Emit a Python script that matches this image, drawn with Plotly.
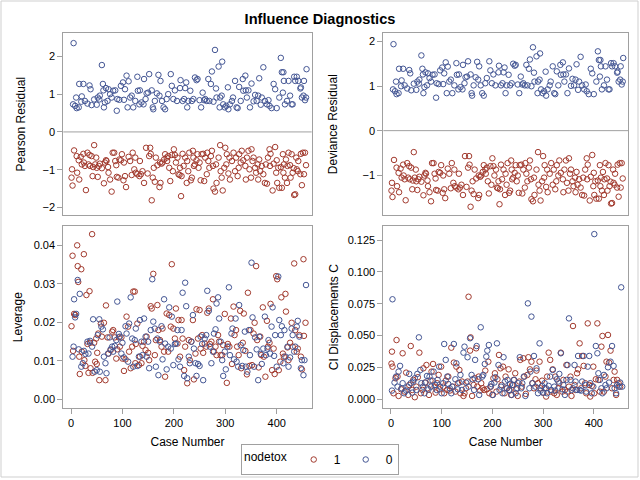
import numpy as np
import plotly.graph_objects as go

# ---- values (case number, statistic) ----
# Pearson residuals, nodetox = 0 (blue)
pear_case_0 = [4,5,8,10,11,15,16,20,21,24,
    27,32,36,38,40,45,50,52,55,56,
    60,62,63,64,66,68,71,73,76,79,
    82,86,89,90,94,97,101,103,105,108,
    110,112,115,118,121,125,129,130,133,134,
    137,141,142,145,147,150,152,157,159,160,
    163,167,170,172,174,177,180,183,186,189,
    194,196,199,202,206,212,213,217,220,222,
    224,226,228,232,235,238,241,244,246,250,
    253,256,259,261,264,267,269,272,274,277,
    280,282,283,287,289,290,293,294,296,299,
    302,305,306,309,313,315,319,322,324,327,
    330,334,335,339,340,342,345,348,351,355,
    358,361,364,366,369,371,374,377,381,384,
    386,390,394,397,400,405,408,410,412,413,
    414,416,420,423,426,429,431,434,436,439,
    442,446,447,449,452,453,455,457,458]
pear_0 = [0.73,2.35,0.69,0.91,0.63,0.65,1.27,0.80,0.94,1.27,
    0.82,0.75,1.23,1.13,0.71,0.86,0.72,0.91,0.86,0.96,
    1.77,1.27,1.10,0.65,0.78,1.16,0.82,1.13,1.00,0.91,
    1.09,1.10,0.56,0.87,0.85,1.22,1.31,0.85,1.13,1.49,
    0.65,1.34,0.91,0.96,0.65,0.82,1.46,1.09,0.73,1.10,
    0.78,0.73,1.40,0.87,1.02,1.04,1.53,1.10,0.65,0.60,
    0.82,1.02,1.51,0.96,1.35,0.82,0.65,0.60,0.87,1.00,
    1.53,1.22,0.87,1.10,0.82,1.16,1.37,0.82,0.87,1.16,
    1.31,0.65,0.82,1.09,0.82,0.87,1.44,1.37,1.40,0.84,
    0.65,1.04,0.84,0.87,0.82,1.40,0.82,1.27,1.60,0.80,
    2.17,1.15,0.91,1.73,0.65,0.91,0.96,1.86,0.73,0.65,
    0.69,1.18,0.60,0.73,0.82,0.91,1.35,0.65,0.63,1.19,
    0.82,1.40,1.09,1.49,1.10,0.91,1.10,0.65,1.28,0.81,
    0.98,0.82,0.96,1.42,0.72,0.91,1.71,0.82,0.73,0.84,
    0.69,0.63,1.27,1.13,0.63,0.91,1.96,1.58,1.04,1.58,
    1.35,0.73,0.82,1.35,0.96,0.73,0.73,1.46,1.35,1.46,
    1.35,1.15,1.18,0.91,0.96,1.35,0.84,0.91,1.66]

# Pearson residuals, nodetox = 1 (red)
pear_case_1 = [1,2,3,6,11,12,15,16,19,21,
    24,25,27,29,32,34,36,37,40,42,
    43,45,47,49,50,52,54,56,60,64,
    66,68,69,72,73,76,79,81,84,86,
    88,89,92,94,97,99,102,103,105,107,
    112,115,118,120,123,125,126,129,133,134,
    136,139,142,146,149,152,154,155,157,159,
    161,163,165,168,172,173,174,176,178,181,
    183,186,187,189,191,193,196,198,200,202,
    204,207,209,211,212,214,215,217,219,222,
    225,226,228,230,233,235,237,238,239,241,
    244,246,248,250,252,254,257,259,261,264,
    265,267,269,272,274,276,277,280,282,283,
    287,290,291,293,295,298,300,302,303,306,
    308,309,313,316,319,321,324,326,327,330,
    332,335,339,340,342,345,347,350,351,353,
    355,358,360,363,364,366,368,371,374,377,
    379,381,383,386,387,388,392,394,397,399,
    400,401,403,405,408,410,412,413,414,416,
    418,420,421,423,426,427,429,431,433,434,
    436,438,439,441,442,446,447,449,451,453,
    455,457]
pear_1 = [-1.21,-0.99,-1.42,-0.49,-0.64,-1.08,-0.75,-1.26,-0.66,-0.86,
    -0.58,-0.81,-0.90,-1.54,-0.55,-0.86,-0.61,-0.90,-0.64,-1.17,
    -0.93,-0.35,-0.86,-0.68,-0.95,-1.19,-0.90,-0.84,-0.96,-1.36,
    -0.81,-0.75,-0.77,-0.93,-1.08,-1.26,-1.58,-0.55,-0.55,-0.77,
    -0.88,-1.19,-1.21,-0.73,-0.75,-0.59,-1.28,-0.81,-1.17,-1.46,
    -0.66,-0.77,-1.14,-0.55,-0.99,-0.68,-1.08,-1.12,-1.17,-0.77,
    -1.12,-1.04,-1.35,-0.42,-1.10,-0.64,-0.42,-0.58,-1.81,-1.21,
    -0.95,-1.32,-0.68,-0.88,-1.46,-0.81,-1.35,-0.84,-0.81,-0.73,
    -0.59,-0.68,-0.77,-0.64,-0.95,-1.30,-0.61,-1.04,-0.46,-0.61,
    -0.81,-0.68,-1.12,-1.14,-0.95,-1.70,-1.17,-0.58,-0.90,-0.68,
    -1.35,-0.77,-1.04,-0.55,-1.28,-1.21,-0.50,-0.68,-0.90,-0.86,
    -0.75,-0.59,-0.95,-0.81,-1.28,-0.59,-0.58,-1.30,-0.68,-1.12,
    -0.55,-0.77,-0.95,-0.64,-0.50,-0.90,-1.50,-1.58,-0.86,-1.35,
    -0.68,-0.35,-1.04,-1.21,-1.55,-0.95,-0.42,-0.86,-0.59,-1.10,
    -0.68,-1.26,-0.77,-0.55,-1.04,-0.68,-1.17,-0.95,-0.59,-0.81,
    -0.50,-0.75,-0.90,-1.26,-0.68,-0.50,-0.99,-1.21,-0.46,-0.77,
    -0.68,-0.95,-1.08,-0.86,-1.26,-0.73,-1.04,-0.90,-1.12,-1.35,
    -0.86,-1.37,-0.68,-0.46,-0.90,-0.58,-1.55,-0.84,-0.40,-1.08,
    -0.75,-1.35,-0.95,-1.48,-0.93,-1.48,-0.59,-1.08,-0.86,-1.21,
    -0.73,-1.35,-0.90,-0.55,-0.88,-1.21,-0.59,-1.08,-0.96,-1.67,
    -1.65,-0.68,-0.99,-1.04,-0.77,-1.12,-0.58,-1.41,-0.55,-1.12,
    -0.55,-0.88]

# Leverage, nodetox = 1
lev_case_1 = [1,3,4,6,8,12,13,14,16,17,
    20,21,25,26,28,30,32,34,36,37,
    38,41,42,45,47,49,50,51,53,55,
    58,60,64,67,68,71,73,77,80,82,
    85,88,90,93,95,98,100,103,106,108,
    111,113,116,119,121,124,125,126,129,132,
    134,137,139,142,145,147,150,152,155,157,
    160,163,165,168,170,173,176,178,181,183,
    186,189,191,194,196,199,202,204,207,209,
    212,215,217,220,222,226,229,231,234,237,
    239,242,244,247,250,252,255,257,260,263,
    265,268,270,273,276,278,281,283,286,288,
    291,294,296,299,303,305,308,311,313,316,
    318,321,323,326,329,331,334,336,339,342,
    344,347,349,352,355,357,360,362,365,368,
    370,373,375,378,381,383,386,388,391,394,
    396,399,401,404,407,409,412,414,417,418,
    421,423,426,429,431,434,436,439,441,444,
    447,449,452,453,456]
lev_1 = [.0190,.0373,.0126,.0222,.0219,.0400,.0346,.0305,.0111,.0066,
    .0338,.0124,.0377,.0102,.0087,.0271,.0144,.0069,.0281,.0147,
    .0081,.0429,.0069,.0147,.0098,.0158,.0092,.0121,.0171,.0050,
    .0197,.0163,.0199,.0050,.0244,.0161,.0119,.0128,.0176,.0180,
    .0161,.0106,.0130,.0161,.0137,.0161,.0106,.0074,.0104,.0215,
    .0189,.0124,.0081,.0137,.0280,.0280,.0094,.0144,.0197,.0089,
    .0111,.0094,.0139,.0150,.0128,.0163,.0121,.0102,.0242,.0236,
    .0326,.0115,.0154,.0245,.0180,.0154,.0137,.0184,.0124,.0059,
    .0223,.0124,.0219,.0189,.0351,.0184,.0158,.0236,.0145,.0206,
    .0111,.0206,.0158,.0076,.0137,.0042,.0154,.0102,.0150,.0206,
    .0052,.0119,.0234,.0158,.0232,.0132,.0167,.0121,.0145,.0137,
    .0225,.0236,.0144,.0150,.0260,.0124,.0137,.0115,.0167,.0150,
    .0115,.0115,.0141,.0222,.0043,.0144,.0137,.0210,.0092,.0241,
    .0167,.0180,.0137,.0115,.0230,.0081,.0147,.0223,.0126,.0065,
    .0277,.0087,.0180,.0089,.0171,.0199,.0346,.0154,.0083,.0163,
    .0115,.0239,.0111,.0059,.0204,.0137,.0147,.0248,.0076,.0132,
    .0066,.0320,.0312,.0076,.0098,.0265,.0119,.0111,.0274,.0228,
    .0135,.0102,.0147,.0199,.0137,.0353,.0180,.0124,.0132,.0167,
    .0111,.0078,.0364,.0165,.0199]

# Leverage, nodetox = 0
lev_case_0 = [3,5,6,8,10,13,15,17,20,23,
    25,28,32,34,37,41,43,46,50,52,
    55,56,59,62,64,67,69,72,75,77,
    80,82,85,88,90,93,95,98,100,103,
    106,108,111,113,116,119,121,124,126,129,
    132,134,137,139,142,145,147,150,152,155,
    158,160,163,165,168,170,173,176,178,181,
    183,186,189,191,194,196,199,202,204,207,
    209,212,215,217,220,222,224,226,229,231,
    234,237,239,242,244,247,250,252,255,257,
    260,263,265,268,270,273,276,278,281,283,
    286,288,291,294,296,299,301,304,307,309,
    312,314,317,320,322,325,327,330,333,335,
    338,340,343,346,348,351,353,356,358,361,
    364,366,369,371,374,377,379,382,384,387,
    390,392,395,397,400,403,405,408,410,413,
    415,417,421,423,426,429,431,434,436,439,
    441,444,447,449,452,454,457]
lev_0 = [.0111,.0137,.0260,.0213,.0222,.0310,.0130,.0274,.0085,.0094,
    .0126,.0118,.0150,.0119,.0152,.0137,.0208,.0072,.0076,.0167,
    .0208,.0072,.0189,.0182,.0111,.0094,.0068,.0119,.0161,.0130,
    .0137,.0124,.0139,.0154,.0254,.0170,.0163,.0119,.0147,.0109,
    .0190,.0171,.0098,.0197,.0265,.0158,.0085,.0154,.0184,.0087,
    .0111,.0206,.0150,.0115,.0210,.0163,.0111,.0150,.0081,.0180,
    .0312,.0202,.0184,.0085,.0158,.0063,.0150,.0190,.0104,.0260,
    .0145,.0078,.0137,.0239,.0132,.0215,.0089,.0144,.0145,.0180,
    .0104,.0085,.0180,.0277,.0061,.0303,.0242,.0055,.0111,.0094,
    .0150,.0219,.0132,.0094,.0061,.0092,.0087,.0163,.0144,.0050,
    .0158,.0167,.0282,.0230,.0137,.0094,.0124,.0171,.0182,.0249,
    .0265,.0210,.0150,.0102,.0061,.0124,.0078,.0137,.0291,.0115,
    .0171,.0184,.0104,.0210,.0098,.0085,.0245,.0141,.0087,.0128,
    .0176,.0085,.0072,.0180,.0115,.0355,.0213,.0085,.0161,.0130,
    .0050,.0163,.0118,.0092,.0132,.0215,.0115,.0132,.0154,.0119,
    .0189,.0239,.0113,.0167,.0085,.0319,.0206,.0167,.0190,.0094,
    .0180,.0111,.0137,.0085,.0109,.0184,.0167,.0124,.0137,.0189,
    .0204,.0163,.0081,.0102,.0063,.0102,.0297]

# CI displacement C, nodetox = 1
ci_case_1 = [1,2,3,5,9,11,13,15,20,23,
    27,30,34,36,39,42,44,47,50,53,
    56,59,62,64,67,70,72,75,78,80,
    83,86,88,91,94,96,99,103,105,108,
    111,113,116,119,121,124,127,129,132,135,
    137,140,143,145,148,151,153,156,157,160,
    163,165,168,170,173,176,178,181,184,186,
    189,192,194,197,200,202,205,208,210,213,
    216,218,221,224,226,229,232,234,237,239,
    242,245,247,250,253,255,258,261,263,266,
    269,271,274,277,279,282,285,287,290,293,
    295,298,300,303,306,308,311,314,316,319,
    322,324,327,330,332,335,338,340,343,346,
    348,351,354,356,359,362,364,367,369,372,
    375,377,380,383,385,388,391,393,396,399,
    401,404,407,409,412,415,417,420,423,425,
    428,430,433,436,439,441,444,446,449,452]
ci_1 = [.0280,.0374,.0256,.0047,.0165,.0465,.0178,.0026,.0078,.0361,
    .0060,.0209,.0034,.0112,.0418,.0073,.0152,.0016,.0099,.0173,
    .0366,.0047,.0073,.0243,.0131,.0269,.0086,.0034,.0146,.0217,
    .0277,.0099,.0052,.0126,.0191,.0078,.0256,.0099,.0047,.0146,
    .0073,.0178,.0068,.0405,.0099,.0288,.0060,.0256,.0126,.0230,
    .0047,.0139,.0026,.0047,.0086,.0139,.0805,.0382,.0486,.0026,
    .0112,.0165,.0400,.0099,.0178,.0068,.0126,.0086,.0073,.0225,
    .0078,.0295,.0047,.0099,.0034,.0165,.0204,.0060,.0157,.0348,
    .0243,.0112,.0256,.0047,.0178,.0086,.0235,.0068,.0034,.0112,
    .0152,.0204,.0078,.0026,.0139,.0309,.0099,.0322,.0178,.0042,
    .0191,.0330,.0235,.0295,.0126,.0086,.0157,.0225,.0126,.0295,
    .0086,.0146,.0052,.0086,.0021,.0178,.0366,.0309,.0060,.0235,
    .0047,.0178,.0034,.0086,.0126,.0366,.0060,.0152,.0073,.0269,
    .0060,.0099,.0178,.0026,.0575,.0112,.0073,.0204,.0235,.0439,
    .0086,.0340,.0262,.0126,.0047,.0596,.0112,.0021,.0105,.0256,
    .0047,.0157,.0596,.0152,.0060,.0413,.0497,.0060,.0178,.0295,
    .0505,.0288,.0382,.0086,.0152,.0217,.0034,.0152,.0126,.0099]

# CI displacement C, nodetox = 0
ci_case_0 = [2,3,7,10,13,15,18,21,23,26,
    30,33,36,39,42,44,47,50,52,55,
    58,60,63,66,68,71,74,76,79,82,
    84,87,90,92,95,97,100,103,105,108,
    111,113,116,119,121,124,127,129,132,135,
    137,140,143,145,148,151,153,156,159,161,
    164,166,169,172,174,177,180,182,185,188,
    190,193,196,198,201,204,206,209,212,214,
    217,220,222,225,228,230,233,235,238,241,
    243,246,249,251,254,257,259,262,265,270,
    277,273,275,279,282,285,287,290,293,295,
    298,300,303,306,308,311,314,316,319,322,
    324,327,330,332,335,338,340,343,346,348,
    351,354,356,359,362,364,367,369,372,375,
    377,380,383,385,388,391,393,396,399,401,
    404,407,409,412,415,417,420,423,425,428,
    430,433,436,439,441,444,446,449,452,454,
    456]
ci_0 = [.0068,.0785,.0131,.0178,.0099,.0217,.0262,.0086,.0126,.0047,
    .0068,.0099,.0199,.0126,.0052,.0139,.0165,.0073,.0199,.0486,
    .0230,.0126,.0099,.0047,.0131,.0183,.0078,.0178,.0099,.0146,
    .0217,.0112,.0073,.0152,.0256,.0099,.0047,.0126,.0434,.0309,
    .0178,.0120,.0086,.0047,.0099,.0434,.0157,.0282,.0078,.0131,
    .0191,.0073,.0366,.0413,.0131,.0330,.0099,.0479,.0191,.0157,
    .0073,.0309,.0418,.0157,.0034,.0565,.0178,.0191,.0277,.0335,
    .0382,.0426,.0099,.0120,.0034,.0131,.0173,.0439,.0269,.0073,
    .0099,.0047,.0330,.0139,.0086,.0152,.0073,.0120,.0034,.0112,
    .0152,.0047,.0086,.0126,.0330,.0086,.0126,.0178,.0026,.0753,
    .0649,.0086,.0217,.0126,.0340,.0099,.0243,.0047,.0439,.0068,
    .0105,.0052,.0126,.0086,.0047,.0105,.0178,.0073,.0230,.0099,
    .0068,.0157,.0139,.0199,.0361,.0078,.0112,.0034,.0152,.0269,
    .0635,.0152,.0073,.0086,.0269,.0139,.0073,.0340,.0073,.0068,
    .0139,.0340,.0112,.0060,.0256,.0340,.0126,.0047,.0099,.1297,
    .0418,.0361,.0204,.0152,.0086,.0047,.0191,.0112,.0086,.0251,
    .0131,.0295,.0418,.0262,.0086,.0047,.0112,.0099,.0131,.0879,
    .0099]

# deviance residual of a binary-response fit follows from its Pearson residual
def deviance_from_pearson(r):
    r = np.asarray(r)
    return np.sign(r) * np.sqrt(2 * np.log1p(r ** 2))

RED = "#A23A2E"
BLUE = "#445694"
FRAME = "#A0A0A0"
FONT = "Liberation Sans, Arial, sans-serif"

fig = go.Figure()

def add_pts(xs, ys, color, name, xa, ya, show):
    fig.add_trace(go.Scatter(x=xs, y=ys, mode="markers", name=name, legendgroup=name,
                             showlegend=show, xaxis=xa, yaxis=ya,
                             marker=dict(symbol="circle-open", size=5.5, color=color,
                                         line=dict(width=1, color=color))))

add_pts(pear_case_1, pear_1, RED, "1", "x", "y", True)
add_pts(pear_case_0, pear_0, BLUE, "0", "x", "y", True)
add_pts(pear_case_1, deviance_from_pearson(pear_1), RED, "1", "x2", "y2", False)
add_pts(pear_case_0, deviance_from_pearson(pear_0), BLUE, "0", "x2", "y2", False)
add_pts(lev_case_1, lev_1, RED, "1", "x3", "y3", False)
add_pts(lev_case_0, lev_0, BLUE, "0", "x3", "y3", False)
add_pts(ci_case_1, ci_1, RED, "1", "x4", "y4", False)
add_pts(ci_case_0, ci_0, BLUE, "0", "x4", "y4", False)

ax = dict(showline=True, mirror=True, linecolor=FRAME, linewidth=1, showgrid=False,
          zeroline=False, ticks="outside", ticklen=5, tickcolor=FRAME,
          tickfont=dict(size=11, color="#000000"))
left_dom = [0.0989, 0.487]
right_dom = [0.599, 0.9817]
top_dom = [0.552, 0.9306]
bot_dom = [0.1494, 0.529]
xrng = [-15, 468]
xticks = [0, 100, 200, 300, 400]
ttl = dict(size=12, color="#000000")

fig.update_layout(
    width=640, height=480, margin=dict(l=0, r=0, t=0, b=0),
    paper_bgcolor="white", plot_bgcolor="white",
    font=dict(family=FONT, color="#000000"),
    title=dict(text="<b>Influence Diagnostics</b>", x=0.5, xanchor="center",
               y=1 - 19 / 480, yanchor="middle", font=dict(size=14.6)),
    xaxis=dict(ax, domain=left_dom, anchor="y", range=xrng, ticks="", showticklabels=False),
    xaxis2=dict(ax, domain=right_dom, anchor="y2", range=xrng, ticks="", showticklabels=False),
    xaxis3=dict(ax, domain=left_dom, anchor="y3", range=xrng, tickvals=xticks,
                title=dict(text="Case Number", font=ttl, standoff=9)),
    xaxis4=dict(ax, domain=right_dom, anchor="y4", range=xrng, tickvals=xticks,
                title=dict(text="Case Number", font=ttl, standoff=9)),
    yaxis=dict(ax, domain=top_dom, anchor="x", range=[-2.2, 2.61], tickvals=[-2, -1, 0, 1, 2],
               title=dict(text="Pearson Residual", font=ttl, standoff=14)),
    yaxis2=dict(ax, domain=top_dom, anchor="x2", range=[-1.89, 2.18], tickvals=[-1, 0, 1, 2],
                title=dict(text="Deviance Residual", font=ttl, standoff=22)),
    yaxis3=dict(ax, domain=bot_dom, anchor="x3", range=[-0.0023, 0.045],
                tickvals=[0, 0.01, 0.02, 0.03, 0.04], tickformat=".2f",
                title=dict(text="Leverage", font=ttl, standoff=8)),
    yaxis4=dict(ax, domain=bot_dom, anchor="x4", range=[-0.0071, 0.136],
                tickvals=[0, 0.025, 0.05, 0.075, 0.1, 0.125], tickformat=".3f",
                title=dict(text="CI Displacements C", font=ttl, standoff=6)),
    legend=dict(orientation="h", x=0.5, xanchor="center", y=1 - 459.5 / 480, yanchor="middle",
                title=dict(text="nodetox", font=dict(size=12), side="left"),
                font=dict(size=12), bordercolor=FRAME, borderwidth=1, itemwidth=30,
                bgcolor="white", tracegroupgap=0),
)

# reference lines at zero on the residual panels
for xa, ya in [("x", "y"), ("x2", "y2")]:
    fig.add_shape(type="line", xref=xa + " domain", x0=0, x1=1,
                  yref=ya, y0=0, y1=0, line=dict(color=FRAME, width=1), layer="below")

# outer graph border
fig.add_shape(type="rect", xref="paper", yref="paper", x0=1 / 640, x1=638 / 640,
              y0=1 - 477 / 480, y1=1 - 1 / 480, line=dict(color="#CFCFCF", width=1))

# drop the default page margin so the 640x480 figure fills the window
fig.write_html("out.html", config={"displayModeBar": False},
               post_script="document.body.style.margin='0';")
